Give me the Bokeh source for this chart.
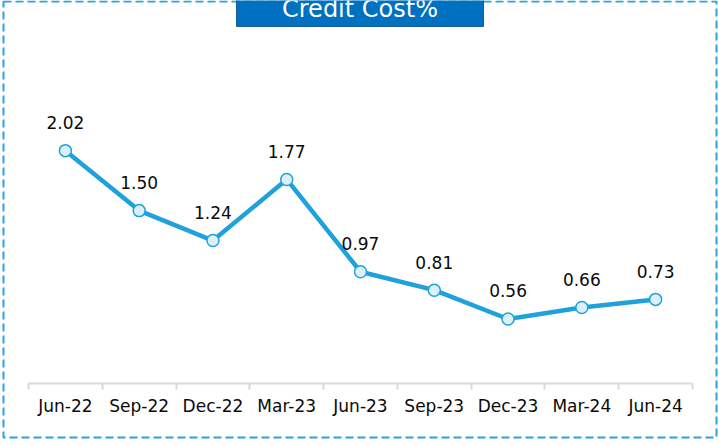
from bokeh.plotting import figure
from bokeh.models import Range1d, FixedTicker, Label, BoxAnnotation
from bokeh.embed import file_html
from bokeh.resources import INLINE
from bokeh.core.properties import value

# ---- data ----
categories = ["Jun-22", "Sep-22", "Dec-22", "Mar-23", "Jun-23",
              "Sep-23", "Dec-23", "Mar-24", "Jun-24"]
credit_cost = [2.02, 1.50, 1.24, 1.77, 0.97, 0.81, 0.56, 0.66, 0.73]
value_labels = ["2.02", "1.50", "1.24", "1.77", "0.97", "0.81", "0.56", "0.66", "0.73"]
title_text = "Credit Cost%"

FONT = "DejaVu Sans"
LINE_COLOR = "#1FA2DC"
BORDER_COLOR = "#2AA4DE"

n = len(categories)
xs = [i + 0.5 for i in range(n)]

W, H = 719, 445
# the plotting frame fills the whole canvas; the axis sits at y = 0 inside it
p = figure(width=W, height=H, output_backend="svg", toolbar_location=None,
           x_range=Range1d(-0.3795, n + 0.366),
           y_range=Range1d(-0.537, 3.322),
           x_axis_location="below", y_axis_location=None,
           min_border_left=0, min_border_right=0,
           min_border_top=0, min_border_bottom=0)
p.outline_line_color = None
p.grid.visible = False
p.background_fill_color = "white"
p.border_fill_color = "white"

ax = p.xaxis[0]
ax.fixed_location = 0
ax.bounds = (0, n)
ax.ticker = FixedTicker(ticks=xs, minor_ticks=list(range(n + 1)))
ax.major_label_overrides = {x: c for x, c in zip(xs, categories)}
ax.major_tick_line_color = None
ax.major_tick_in = 0
ax.major_tick_out = 0
ax.minor_tick_in = 0
ax.minor_tick_out = 6
ax.minor_tick_line_color = "#D9D9D9"
ax.minor_tick_line_width = 2
ax.axis_line_color = "#D9D9D9"
ax.axis_line_width = 2
ax.major_label_standoff = 6
ax.major_label_text_font = FONT
ax.major_label_text_font_size = "17px"
ax.major_label_text_color = "#0A0A0A"

p.line(xs, credit_cost, line_width=4.5, line_color=LINE_COLOR,
       line_join="round")
p.scatter(xs, credit_cost, size=12, fill_color="#DDF0FA",
          line_color=LINE_COLOR, line_width=1.5)
p.text(x=xs, y=credit_cost, text=value_labels, text_align="center",
       text_baseline="alphabetic", y_offset=-28,
       text_font=value(FONT), text_font_size="17px", text_color="#0A0A0A")

# dashed border around the whole chart
border = BoxAnnotation(left=3, right=716, top=1, bottom=437,
                       left_units="canvas", right_units="canvas",
                       top_units="canvas", bottom_units="canvas",
                       fill_color=None, line_color=BORDER_COLOR,
                       line_alpha=1, line_dash="8 4", line_width=2)
p.add_layout(border)

# title box, cut off at the top of the chart
tbox = BoxAnnotation(left=236, right=483, top=-20, bottom=26,
                     left_units="canvas", right_units="canvas",
                     top_units="canvas", bottom_units="canvas",
                     fill_color="#0070C0", fill_alpha=1,
                     line_color="#1A5C94", line_alpha=1, line_width=1)
p.add_layout(tbox)

tlabel = Label(x=359.5, y=8, x_units="canvas", y_units="canvas",
               text=title_text, text_align="center", text_baseline="alphabetic",
               text_color="white", text_font=FONT, text_font_size="24px")
p.add_layout(tlabel)

open("out.html", "w").write(file_html(p, INLINE))
